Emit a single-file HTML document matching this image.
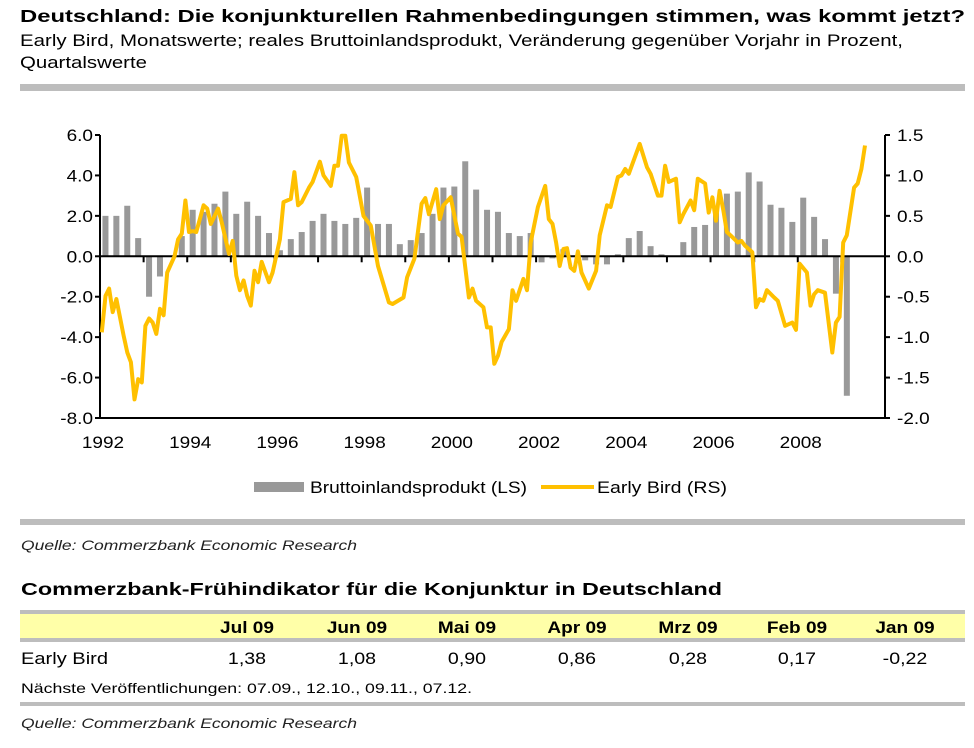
<!DOCTYPE html>
<html><head><meta charset="utf-8"><style>
body{margin:0;background:#fff;}
svg{display:block;font-family:"Liberation Sans",Arial,sans-serif;}
</style></head><body>
<svg id="page" width="974" height="748" viewBox="0 0 974 748" xmlns="http://www.w3.org/2000/svg">
<text x="20" y="22" font-size="17.5" font-weight="bold" fill="#000" textLength="945" lengthAdjust="spacingAndGlyphs">Deutschland: Die konjunkturellen Rahmenbedingungen stimmen, was kommt jetzt?</text>
<text x="20" y="46" font-size="16.5" fill="#000" textLength="883" lengthAdjust="spacingAndGlyphs">Early Bird, Monatswerte; reales Bruttoinlandsprodukt, Veränderung gegenüber Vorjahr in Prozent,</text>
<text x="20" y="68" font-size="16.5" fill="#000" textLength="127" lengthAdjust="spacingAndGlyphs">Quartalswerte</text>
<rect x="20" y="84" width="945" height="7" fill="#bdbdbd"/>
<g id="chart"></g>
<g>
<rect x="254" y="482" width="50" height="10" fill="#999"/>
<text x="310" y="493" font-size="16.5" textLength="217" lengthAdjust="spacingAndGlyphs">Bruttoinlandsprodukt (LS)</text>
<line x1="541" y1="487" x2="594" y2="487" stroke="#FFC000" stroke-width="4"/>
<text x="597" y="493" font-size="16.5" textLength="130" lengthAdjust="spacingAndGlyphs">Early Bird (RS)</text>
</g>
<rect x="20" y="519" width="945" height="6" fill="#bdbdbd"/>
<text x="21" y="550" font-size="14" font-style="italic" fill="#222" textLength="336" lengthAdjust="spacingAndGlyphs">Quelle: Commerzbank Economic Research</text>
<text x="21" y="595" font-size="17.5" font-weight="bold" textLength="701" lengthAdjust="spacingAndGlyphs">Commerzbank-Frühindikator für die Konjunktur in Deutschland</text>
<rect x="20" y="610" width="945" height="4" fill="#bdbdbd"/>
<rect x="20" y="614" width="945" height="24" fill="#ffffa8"/>
<rect x="20" y="638" width="945" height="4" fill="#bdbdbd"/>
<g id="table"></g>
<text x="21" y="693" font-size="14" textLength="451" lengthAdjust="spacingAndGlyphs">Nächste Veröffentlichungen: 07.09., 12.10., 09.11., 07.12.</text>
<rect x="20" y="702" width="945" height="4" fill="#bdbdbd"/>
<text x="21" y="728" font-size="14" font-style="italic" fill="#222" textLength="336" lengthAdjust="spacingAndGlyphs">Quelle: Commerzbank Economic Research</text>
</svg>
<script>
// GDP quarterly, Q1 1992 onward (% y/y, left scale)
const gdpValues = [2.0,2.0,2.5,0.9,-2.0,-1.0,0.0,1.0,2.3,2.2,2.6,3.2,2.1,2.7,2.0,1.15,0.3,0.85,1.2,1.75,2.1,1.75,1.6,1.9,3.4,1.6,1.6,0.6,0.8,1.15,2.1,3.4,3.45,4.7,3.3,2.3,2.2,1.15,1.0,1.15,-0.3,-0.1,0.35,0.0,-0.2,-0.4,-0.4,0.1,0.9,1.25,0.5,0.1,0.0,0.7,1.45,1.55,2.25,3.1,3.2,4.15,3.7,2.55,2.4,1.7,2.9,1.95,0.85,-1.85,-6.9];
// Early Bird: month index since Jan 1992, value (right scale)
const ebMonths = [0,1,2,3,4,6,7,8,9,10,11,12,13,14,15,16,17,18,20,21,22,23,24,25,26,28,29,30,32,33,35,36,37,38,39,40,41,42,43,44,46,47,49,50,52,53,54,55,57,58,60,61,63,64,65,66,67,68,70,72,74,76,79,80,83,84,86,88,89,90,92,93,94,96,98,99,101,102,103,105,106,107,108,109,110,112,113,114,116,117,118,120,122,123,124,125,126,127,128,129,130,131,132,134,136,137,139,140,142,143,144,145,148,150,151,153,154,155,156,158,159,160,162,163,164,166,167,168,169,170,171,172,173,175,176,177,179,180,181,182,183,185,186,188,190,191,192,194,195,196,197,199,201,202,203,204,205,207,208,209,210];
const ebValues = [-0.94,-0.49,-0.40,-0.69,-0.53,-0.98,-1.19,-1.31,-1.77,-1.52,-1.56,-0.86,-0.77,-0.82,-0.96,-0.65,-0.73,-0.20,0.0,0.21,0.28,0.69,0.30,0.31,0.30,0.63,0.59,0.40,0.59,0.42,0.03,0.19,-0.24,-0.42,-0.30,-0.49,-0.61,-0.18,-0.32,-0.07,-0.32,-0.20,0.21,0.67,0.71,1.04,0.63,0.67,0.85,0.92,1.17,1.00,0.87,1.12,1.12,1.49,1.49,1.16,0.98,0.50,0.38,-0.12,-0.57,-0.59,-0.51,-0.26,-0.03,0.65,0.72,0.52,0.83,0.46,0.63,0.73,0.28,0.24,-0.51,-0.40,-0.55,-0.63,-0.88,-0.88,-1.33,-1.23,-1.06,-0.90,-0.42,-0.55,-0.28,-0.42,0.17,0.61,0.87,0.46,0.40,0.17,-0.12,0.09,0.10,-0.14,-0.18,0.06,-0.20,-0.40,-0.18,0.26,0.63,0.61,0.98,1.00,1.08,1.02,1.39,1.10,1.02,0.75,0.75,1.12,0.92,0.96,0.42,0.52,0.69,0.57,0.96,0.90,0.54,0.73,0.44,0.81,0.57,0.30,0.26,0.17,0.19,0.13,0.05,-0.63,-0.53,-0.55,-0.42,-0.51,-0.55,-0.86,-0.82,-0.91,-0.09,-0.20,-0.61,-0.47,-0.42,-0.45,-1.19,-0.82,-0.75,0.17,0.26,0.85,0.90,1.08,1.37];
const leftTicks = [6,4,2,0,-2,-4,-6,-8];
const leftTickLabels = ["6.0","4.0","2.0","0.0","-2.0","-4.0","-6.0","-8.0"];
const rightTicks = [1.5,1.0,0.5,0,-0.5,-1.0,-1.5,-2.0];
const rightTickLabels = ["1.5","1.0","0.5","0.0","-0.5","-1.0","-1.5","-2.0"];
const yearLabels = [1992,1994,1996,1998,2000,2002,2004,2006,2008];
const tableMonths = ["Jul 09","Jun 09","Mai 09","Apr 09","Mrz 09","Feb 09","Jan 09"];
const tableValues = ["1,38","1,08","0,90","0,86","0,28","0,17","-0,22"];

const NS="http://www.w3.org/2000/svg";
const X0=100,X1=885,Y_TOP=135,Y_BOT=418;
const yearW=(X1-X0)/18;
const yL=v=>Y_TOP+(6-v)/14*(Y_BOT-Y_TOP);
const yR=v=>Y_TOP+(1.5-v)/3.5*(Y_BOT-Y_TOP);
const xQ=i=>X0+(i+0.5)*yearW/4;
const xM=m=>X0+(m+0.5)*yearW/12;
const xYear=y=>X0+(y-1992)*yearW;
function mk(tag,attrs,parent){const e=document.createElementNS(NS,tag);for(const k in attrs)e.setAttribute(k,attrs[k]);parent.appendChild(e);return e;}
function stretch(el,f){const w=el.getComputedTextLength();if(w>0){el.setAttribute('textLength',(w*f).toFixed(1));el.setAttribute('lengthAdjust','spacingAndGlyphs');}}
const chart=document.getElementById('chart');

gdpValues.forEach((v,i)=>{
  const y0=yL(0),y1=yL(v);
  const r=mk('rect',{x:xQ(i)-3,y:Math.min(y0,y1),width:6,height:Math.abs(y1-y0),fill:'#999'},chart);
  
  
});
const ax=mk('path',{d:`M${X0},${Y_TOP}V${Y_BOT}M${X1},${Y_TOP}V${Y_BOT}M${X0},${Y_BOT}H${X1}`,stroke:'#000','stroke-width':2,fill:'none'},chart);


const z=mk('line',{x1:X0,x2:X1,y1:yL(0),y2:yL(0),stroke:'#000','stroke-width':2},chart);


leftTicks.forEach((v,i)=>{
  mk('line',{x1:X0-5,x2:X0,y1:yL(v),y2:yL(v),stroke:'#000','stroke-width':2},chart);
  const t=mk('text',{x:X0-7,y:yL(v)+6,'font-size':16.5,'text-anchor':'end'},chart);
  t.textContent=leftTickLabels[i];
  
  
  stretch(t,1.15);
});
rightTicks.forEach((v,i)=>{
  mk('line',{x1:X1,x2:X1+5,y1:yR(v),y2:yR(v),stroke:'#000','stroke-width':2},chart);
  const t=mk('text',{x:X1+12,y:yR(v)+6,'font-size':16.5},chart);
  t.textContent=rightTickLabels[i];
  
  
  stretch(t,1.15);
});
for(let y=1993;y<2010;y++){
  mk('line',{x1:xYear(y),x2:xYear(y),y1:yL(0),y2:yL(0)+6,stroke:'#000','stroke-width':2},chart);
}
yearLabels.forEach(y=>{
  const t=mk('text',{x:xYear(y)+3,y:448,'font-size':16.5,'text-anchor':'middle'},chart);
  t.textContent=String(y);
  
  
  stretch(t,1.15);
});
const d=ebMonths.map((m,i)=>(i?'L':'M')+xM(m).toFixed(1)+','+yR(ebValues[i]).toFixed(1)).join('');
const ln=mk('path',{d:d,stroke:'#FFC000','stroke-width':4,fill:'none','stroke-linejoin':'round'},chart);



const tbl=document.getElementById('table');
const colX=[247,357,467,577,688,797,905];
tableMonths.forEach((m,i)=>{
  const t=mk('text',{x:colX[i],y:633,'font-size':17,'font-weight':'bold','text-anchor':'middle'},tbl);
  t.textContent=m;
  
  
  stretch(t,1.12);
  const v=mk('text',{x:colX[i],y:664,'font-size':17,'text-anchor':'middle'},tbl);
  v.textContent=tableValues[i];
  
  
  stretch(v,1.15);
});
const rl=mk('text',{x:21,y:664,'font-size':17,'textLength':87,'lengthAdjust':'spacingAndGlyphs'},tbl);
rl.textContent='Early Bird';


</script>
</body></html>
